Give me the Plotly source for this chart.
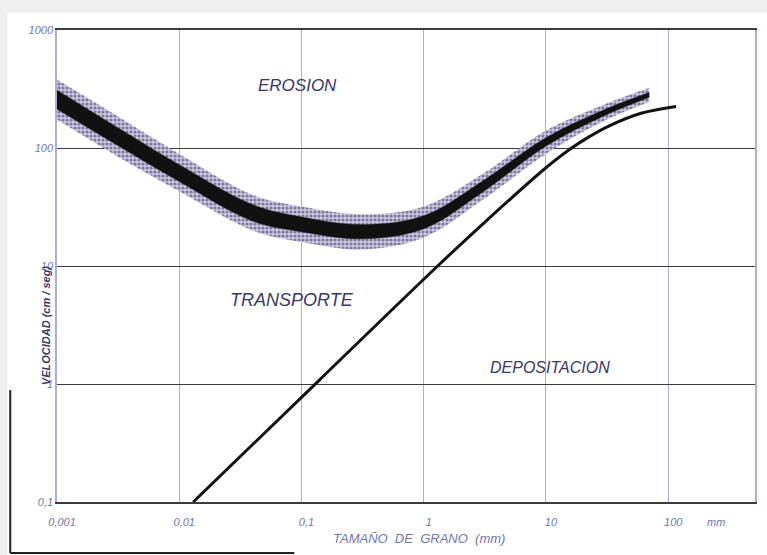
import math
import plotly.graph_objects as go

# ---------------- data ----------------
# Erosion band (grain size mm -> velocity cm/s)
band_d = [0.001, 0.003, 0.01, 0.04, 0.1, 0.32, 1, 3, 10, 30, 70]
band_upper = [380, 191, 89, 40, 32, 27.5, 32, 60, 141, 234, 324]
band_lower = [174, 87, 43, 20, 16, 13.8, 17.4, 36, 89, 170, 245]
core_upper = [309, 153, 72, 33, 26, 22.4, 26.6, 52, 122, 211, 295]
core_lower = [214, 108, 52, 24, 19.5, 17, 20.7, 42, 104, 188, 269]

# Deposition curve
dep_d = [0.013, 0.14, 1.3, 3.3, 10, 16, 23, 32, 60, 116]
dep_v = [0.1, 1.08, 10, 24.5, 68, 99, 126, 152, 197, 225]

x_tickvals = [0.001, 0.01, 0.1, 1, 10, 100]
x_ticktext = ["0,001", "0,01", "0,1", "1", "10", "100"]
y_tickvals = [0.1, 1, 10, 100, 1000]
y_ticktext = ["0,1", "1", "10", "100", "1000"]

region_labels = ["EROSION", "TRANSPORTE", "DEPOSITACION"]
region_x = [0.093, 0.084, 10.7]
region_y = [340, 5.15, 1.37]
region_size = [17, 18, 16]

TXT = "#3b3768"
TICK = "#6f76ad"
VGRID = "#a9aed2"
HGRID = "#3c3c3c"

fig = go.Figure()

# stippled erosion band
fig.add_trace(go.Scatter(x=band_d, y=band_lower, mode="lines",
                         line=dict(width=0, shape="spline"), hoverinfo="skip",
                         showlegend=False))
fig.add_trace(go.Scatter(x=band_d, y=band_upper, mode="lines",
                         line=dict(width=0, shape="spline"), fill="tonexty",
                         fillcolor="#c6c2dc",
                         fillpattern=dict(shape=".", fgcolor="#2e2a55",
                                          bgcolor="#cdc9e2", size=4, solidity=0.5),
                         hoverinfo="skip", showlegend=False))
# black core
fig.add_trace(go.Scatter(x=band_d, y=core_lower, mode="lines",
                         line=dict(width=0.5, color="#111111", shape="spline"),
                         hoverinfo="skip", showlegend=False))
fig.add_trace(go.Scatter(x=band_d, y=core_upper, mode="lines",
                         line=dict(width=0.5, color="#111111", shape="spline"),
                         fill="tonexty", fillcolor="#111111",
                         hoverinfo="skip", showlegend=False))
# deposition curve
fig.add_trace(go.Scatter(x=dep_d, y=dep_v, mode="lines",
                         line=dict(width=3, color="#111111", shape="spline",
                                   smoothing=1.0),
                         hoverinfo="skip", showlegend=False))

for t, xv, yv, sz in zip(region_labels, region_x, region_y, region_size):
    fig.add_annotation(x=math.log10(xv), y=math.log10(yv),
                       xref="x", yref="y", text=t, showarrow=False,
                       font=dict(family="Liberation Sans", size=sz, color=TXT,
                                 style="italic"))

# axis titles / unit
fig.add_annotation(xref="paper", yref="paper", x=-0.027, y=0.375,
                   text="VELOCIDAD (cm / seg)", textangle=-90, showarrow=False,
                   font=dict(family="Liberation Sans", size=11, color=TXT,
                             style="italic", weight="bold"))
fig.add_annotation(xref="paper", yref="paper", x=0.519, y=-0.098,
                   text="TAMAÑO  DE  GRANO  (mm)", showarrow=False,
                   font=dict(family="Liberation Sans", size=13, color=TICK,
                             style="italic"))
fig.add_annotation(xref="paper", yref="paper", x=0.96, y=-0.06,
                   text="mm", showarrow=False,
                   font=dict(family="Liberation Sans", size=11, color=TICK,
                             style="italic"))

# scan background details
fig.add_shape(type="rect", xref="paper", yref="paper", x0=-0.1, x1=1.02,
              y0=1.037, y1=1.08, fillcolor="#efefef", line_width=0, layer="below")
fig.add_shape(type="rect", xref="paper", yref="paper", x0=-0.1, x1=-0.071,
              y0=-0.13, y1=1.08, fillcolor="#efefef", line_width=0, layer="below")
fig.add_shape(type="line", xref="paper", yref="paper", x0=-0.067, x1=-0.067,
              y0=0.237, y1=-0.108, line=dict(color="#222222", width=2))
fig.add_shape(type="line", xref="paper", yref="paper", x0=-0.067, x1=0.34,
              y0=-0.108, y1=-0.108, line=dict(color="#222222", width=2))

fig.update_xaxes(type="log", range=[-3, 2.71], tickvals=x_tickvals,
                 ticktext=x_ticktext, showgrid=True, gridcolor=VGRID, gridwidth=1,
                 showline=True, linecolor=HGRID, linewidth=1.5, mirror=True,
                 ticks="", zeroline=False, ticklabelshift=5, ticklabelstandoff=9,
                 tickfont=dict(family="Liberation Sans", size=11, color=TICK,
                               style="italic"))
fig.update_yaxes(type="log", range=[-1, 3], tickvals=y_tickvals,
                 ticktext=y_ticktext, showgrid=True, gridcolor=HGRID, gridwidth=1.3,
                 showline=True, linecolor=VGRID, linewidth=1.5, mirror=True,
                 ticks="", zeroline=False,
                 tickfont=dict(family="Liberation Sans", size=11, color=TICK,
                               style="italic"))

fig.update_layout(width=767, height=555,
                  margin=dict(l=57, r=10, t=30, b=53),
                  paper_bgcolor="white", plot_bgcolor="white",
                  showlegend=False)

fig.write_html("out.html", config={"displayModeBar": False},
               post_script="document.body.style.margin='0';"
                           "document.body.style.overflow='hidden';")
